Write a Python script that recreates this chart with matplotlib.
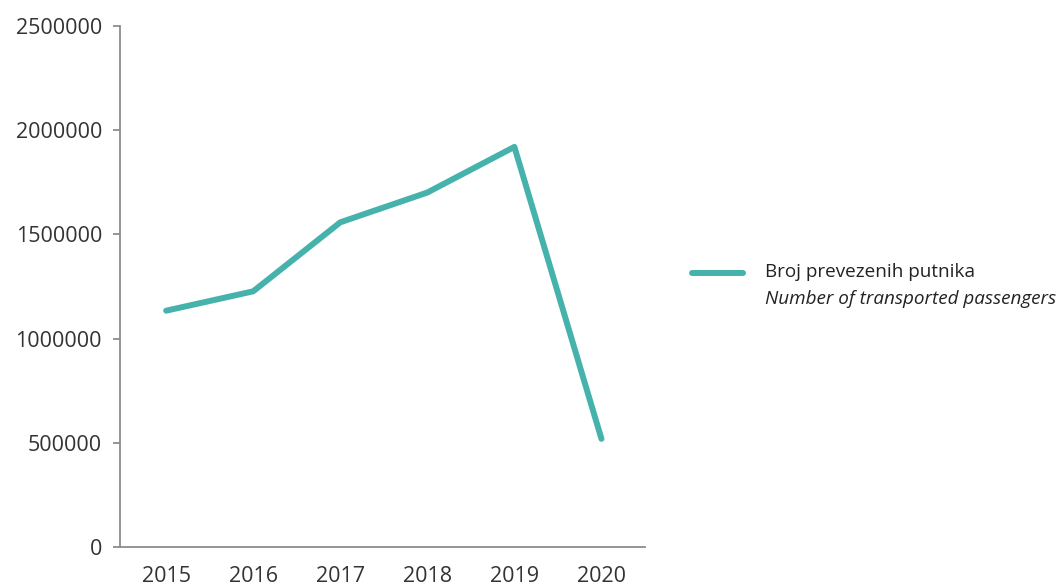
import matplotlib
matplotlib.use("Agg")
import matplotlib.pyplot as plt
from matplotlib.lines import Line2D

years = ["2015", "2016", "2017", "2018", "2019", "2020"]
passengers = [1134000, 1227000, 1558000, 1701000, 1920000, 519000]
y_ticks = [0, 500000, 1000000, 1500000, 2000000, 2500000]
label_hr = "Broj prevezenih putnika"
label_en = "Number of transported passengers"

color = "#45B3AB"
plt.rcParams['font.family'] = ['Open Sans', 'DejaVu Sans']

fig = plt.figure(figsize=(10.61, 5.87), dpi=100)
ax = fig.add_axes([0.1131, 0.0681, 0.4948, 0.8876])

x = list(range(len(years)))
ax.plot(x, passengers, color=color, lw=4.3, solid_capstyle='round', solid_joinstyle='round')

ax.set_xlim(-0.53, 5.5)
ax.set_ylim(0, 2500000)
ax.set_yticks(y_ticks)
ax.set_yticklabels([str(v) for v in y_ticks])
ax.set_xticks(x)
ax.set_xticklabels(years)

for s in ['top', 'right']:
    ax.spines[s].set_visible(False)
for s in ['left', 'bottom']:
    ax.spines[s].set_color('#8c8c8c')
    ax.spines[s].set_linewidth(1.3)

ax.tick_params(axis='y', length=5, width=1.3, color='#8c8c8c', pad=8,
               labelsize=15.5, labelcolor='#333333')
ax.tick_params(axis='x', length=0, pad=14, labelsize=15.5, labelcolor='#333333')

# legend
fig.add_artist(Line2D([692/1061, 743/1061], [1-273/587, 1-273/587],
                      color=color, lw=4.3, solid_capstyle='round'))
fig.text(765/1061, 1-272/587, label_hr, fontsize=13.6, color='#222222', va='center', ha='left')
fig.text(765/1061, 1-299/587, label_en, fontsize=13.6, color='#222222', va='center', ha='left',
         style='italic')

fig.savefig("out.png", dpi=100)
